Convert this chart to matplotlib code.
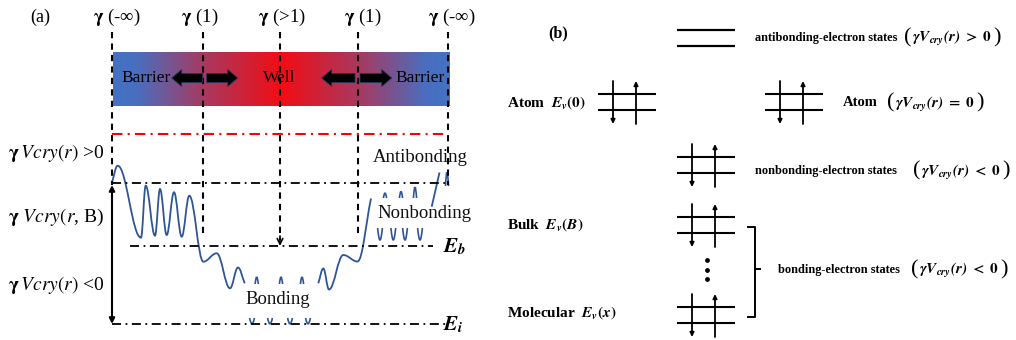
import numpy as np
import matplotlib
matplotlib.use("Agg")
import matplotlib.pyplot as plt
from matplotlib.path import Path
from matplotlib.patches import PathPatch, FancyArrow
from matplotlib.colors import LinearSegmentedColormap

plt.rcParams['font.family'] = ['Liberation Serif', 'DejaVu Serif']
plt.rcParams['mathtext.fontset'] = 'stix'

# ---- panel (a) data, in picture pixels ----
gamma_labels = [r'$\mathbf{\gamma}$ (-∞)', r'$\mathbf{\gamma}$ (1)', r'$\mathbf{\gamma}$ (>1)',
                r'$\mathbf{\gamma}$ (1)', r'$\mathbf{\gamma}$ (-∞)']
gamma_label_x = [117, 200, 282, 363, 452]
gamma_line_x = [112, 203, 280, 358, 448]
gamma_line_bottom = [185, 238, 240, 238, 185]

bar_left, bar_right, bar_top, bar_bottom = 112.7, 449, 51.7, 105.7
bar_stops = [0.0, 0.07, 0.27, 0.5, 0.73, 0.93, 1.0]
bar_colors = ['#4472C4', '#4A6EBF', '#A8395F', '#F20D15', '#A8395F', '#4A6EBF', '#4472C4']

# fat arrows: (tail x, tip x)
push_arrows = [(202.7, 171.7), (206.7, 237.7), (355, 321.7), (360, 391.7)]
arrow_y = 78

red_level_y = 134
levels = {'top': (183, 112, 448), 'Eb': (246, 130, 433), 'Ei': (324, 112, 448)}

# potential curve pieces: (x, y) points, interior ones are extrema
curve_left = [(111.7, 183.3), (117.7, 165.7), (141, 237.7), (145.7, 185.7), (155, 235.7),
              (160, 189), (166.7, 235), (174, 192.3), (181.7, 236.7), (189.3, 195.7),
              (203.3, 261.7), (216.7, 253.3), (230, 288.3), (238, 267.5), (244.7, 283.3)]
curve_right = [(318.3, 283.3), (323.3, 268.5), (329, 289.5), (343.3, 255), (357.5, 261.5),
               (371, 198.5)]
curve_top = [(431.7, 206.7), (439.5, 172.5)]

# small broken wave pieces: x, tip y, base y, half width
bond_up_x = [256.7, 281, 302]
bond_up = (277, 284, 1.6)
bond_dn_x = [252, 270, 290, 308]
bond_dn = (324, 318, 2.4)
nonb_up_x = [385, 401, 415]
nonb_up_tip = [193, 191.5, 187]
nonb_up_base = 198
nonb_dn_x = [380, 393.3, 405, 420]
nonb_dn = (240, 228, 2.4)
anti_up_x = [447]
anti_up = (172, 186, 1.5)

side_labels = [r'$\mathbf{\gamma}\,Vcry(r)$ >0', r'$\mathbf{\gamma}\ Vcry(r$, B)',
               r'$\mathbf{\gamma}\,Vcry(r)$ <0']
side_label_y = [153, 217, 285]

region_labels = ['Antibonding', 'Nonbonding', 'Bonding']
region_label_xy = [(373, 157, 'left'), (377, 213, 'left'), (278, 300, 'center')]

# ---- panel (b) data ----
anti_lines_y = [30, 46]
level_w = 58
symbols = [(598, 94), (765, 94), (677, 157), (677, 217), (677, 307)]
left_names = [r'Atom  $\mathbfit{E}_{\mathbfit{v}}\mathbf{(0)}$',
              r'Bulk  $\mathbfit{E}_{\mathbfit{v}}\mathbf{(}\mathbfit{B}\mathbf{)}$',
              r'Molecular  $\mathbfit{E}_{\mathbfit{v}}\mathbf{(}\mathbfit{x}\mathbf{)}$']
left_names_y = [103, 225, 313]
state_names = ['antibonding-electron states', 'nonbonding-electron states',
               'bonding-electron states']
state_xy = [(755, 38), (755, 171), (778, 270)]
state_expr = [r'$\mathbfit{\gamma V_{cry}(r)}\ \mathbf{>}\ \mathbf{0}$',
              r'$\mathbfit{\gamma V_{cry}(r)}\ \mathbf{=}\ \mathbf{0}$',
              r'$\mathbfit{\gamma V_{cry}(r)}\ \mathbf{<}\ \mathbf{0}$',
              r'$\mathbfit{\gamma V_{cry}(r)}\ \mathbf{<}\ \mathbf{0}$']
state_expr_xy = [(904, 38), (887, 103), (913, 171), (911, 270)]
dots_y = [260, 270, 279]

BLUE = '#2F5597'


def wave_path(pts, k=0.38):
    verts = [pts[0]]
    codes = [Path.MOVETO]
    n = len(pts)
    for i in range(n - 1):
        (x0, y0), (x1, y1) = pts[i], pts[i + 1]
        dx = x1 - x0
        if 0 < i:
            c1 = (x0 + k * dx, y0)
        else:
            c1 = (x0 + k * dx, y0 + k * (y1 - y0))
        if i + 1 < n - 1:
            c2 = (x1 - k * dx, y1)
        else:
            c2 = (x1 - k * dx, y1 - k * (y1 - y0))
        verts += [c1, c2, (x1, y1)]
        codes += [Path.CURVE4] * 3
    return Path(verts, codes)


def caret(ax, x, tip, base, w):
    p = Path([(x - w, base), (x, 2 * tip - base), (x + w, base)],
             [Path.MOVETO, Path.CURVE3, Path.CURVE3])
    ax.add_patch(PathPatch(p, fill=False, ec=BLUE, lw=1.2))


def state_symbol(ax, x0, y0):
    for y in (y0, y0 + 16):
        ax.plot([x0, x0 + level_w], [y, y], color='black', lw=1.5, solid_capstyle='butt')
    ax.annotate('', xy=(x0 + 15, y0 + 30), xytext=(x0 + 15, y0 - 13),
                arrowprops=dict(arrowstyle='-|>', lw=1.3, color='black', mutation_scale=6,
                                shrinkA=0, shrinkB=0))
    ax.annotate('', xy=(x0 + 38, y0 - 13), xytext=(x0 + 38, y0 + 30),
                arrowprops=dict(arrowstyle='-|>', lw=1.3, color='black', mutation_scale=6,
                                shrinkA=0, shrinkB=0))


def paren_expr(ax, x, y, inner, size=11):
    r = fig.canvas.get_renderer()
    t = ax.text(x, y, '(', fontsize=size * 1.45, ha='left', va='center')
    x += t.get_window_extent(r).width + 1
    t = ax.text(x, y + 1, inner, fontsize=size, ha='left', va='center')
    x += t.get_window_extent(r).width + 1
    ax.text(x, y, ')', fontsize=size * 1.45, ha='left', va='center')


fig = plt.figure(figsize=(10.16, 3.4), dpi=100)
ax = fig.add_axes([0, 0, 1, 1])
ax.set_xlim(0, 1016)
ax.set_ylim(340, 0)
ax.axis('off')

# gradient bar
cmap = LinearSegmentedColormap.from_list('bw', list(zip(bar_stops, bar_colors)))
grad = np.linspace(0, 1, 400).reshape(1, -1)
ax.imshow(grad, cmap=cmap, aspect='auto', extent=[bar_left, bar_right, bar_bottom, bar_top],
          zorder=1)

ax.text(40, 17, '(a)', fontsize=13, ha='center', va='center')
for lab, x in zip(gamma_labels, gamma_label_x):
    ax.text(x, 17, lab, fontsize=13.5, ha='center', va='center')

for x, yb in zip(gamma_line_x, gamma_line_bottom):
    ax.plot([x, x], [32, yb], color='black', lw=1.5, dashes=(3, 2.5), zorder=3)
ax.annotate('', xy=(280, 246), xytext=(280, 236),
            arrowprops=dict(arrowstyle='->', lw=1.2, color='black', shrinkA=0, shrinkB=0))

for tail, tip in push_arrows:
    ax.add_patch(FancyArrow(tail, arrow_y, tip - tail, 0, width=9, head_width=17,
                            head_length=10, length_includes_head=True, fc='black',
                            ec='#1F3864', lw=0.6, zorder=4))

ax.text(146, arrow_y, 'Barrier', fontsize=12.5, ha='center', va='center', zorder=5)
ax.text(279, arrow_y, 'Well', fontsize=12.5, ha='center', va='center', zorder=5)
ax.text(420, arrow_y, 'Barrier', fontsize=12.5, ha='center', va='center', zorder=5)

ax.plot([112, 448], [red_level_y, red_level_y], color='red', lw=1.5, dashes=(5, 2.5, 1, 2.5))
for y, x0, x1 in levels.values():
    ax.plot([x0, x1], [y, y], color='black', lw=1.3, dashes=(5, 2.5, 1, 2.5))

ax.annotate('', xy=(112, 185), xytext=(112, 324),
            arrowprops=dict(arrowstyle='<|-|>', lw=1.5, color='black', mutation_scale=8,
                            shrinkA=0, shrinkB=0))

for pts in (curve_left, curve_right, curve_top):
    ax.add_patch(PathPatch(wave_path(pts), fill=False, ec=BLUE, lw=1.3))
for x in bond_up_x:
    caret(ax, x, *bond_up)
for x in bond_dn_x:
    caret(ax, x, *bond_dn)
for x, t in zip(nonb_up_x, nonb_up_tip):
    caret(ax, x, t, nonb_up_base, 1.6)
for x in nonb_dn_x:
    caret(ax, x, *nonb_dn)
for x in anti_up_x:
    caret(ax, x, *anti_up)

for lab, y in zip(side_labels, side_label_y):
    ax.text(8, y, lab, fontsize=14, ha='left', va='center')
for lab, (x, y, ha) in zip(region_labels, region_label_xy):
    ax.text(x, y, lab, fontsize=13.5, ha=ha, va='center', color='#111111')
ax.text(443, 247, r'$\mathbfit{E}_{\mathbfit{b}}$', fontsize=15, ha='left', va='center')
ax.text(443, 325, r'$\mathbfit{E}_{\mathbfit{i}}$', fontsize=15, ha='left', va='center')

# ---- panel (b) ----
ax.text(558, 33, '(b)', fontsize=11.5, fontweight='bold', ha='center', va='center')
for y in anti_lines_y:
    ax.plot([677, 677 + level_w], [y, y], color='black', lw=1.6, solid_capstyle='butt')
for x0, y0 in symbols:
    state_symbol(ax, x0, y0)
for lab, y in zip(left_names, left_names_y):
    ax.text(507, y, lab, fontsize=11, fontweight='bold', ha='left', va='center')
ax.text(843, 103, 'Atom', fontsize=10.5, fontweight='bold', ha='left', va='center')
for lab, (x, y) in zip(state_names, state_xy):
    ax.text(x, y, lab, fontsize=8.8, fontweight='bold', ha='left', va='center')
for lab, (x, y) in zip(state_expr, state_expr_xy):
    paren_expr(ax, x, y, lab)
ax.scatter([707] * len(dots_y), dots_y, s=6, color='black')
ax.plot([748, 755, 755, 748], [227, 227, 317, 317], color='black', lw=1.4)
ax.plot([755, 760], [269, 269], color='black', lw=1.4)

fig.savefig('out.png', dpi=100)
